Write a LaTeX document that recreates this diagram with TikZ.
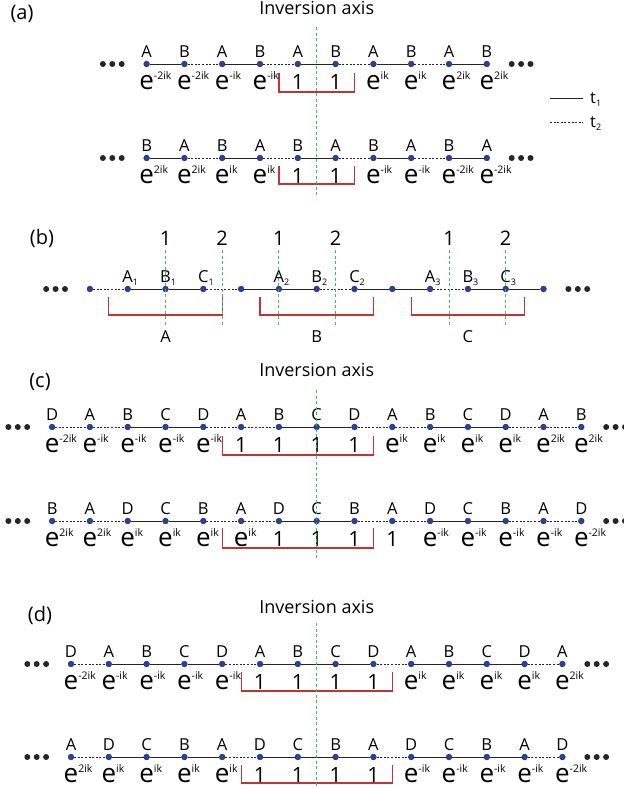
\documentclass[tikz,border=0pt]{standalone}
\usepackage{fontspec}
\setmainfont{Open Sans}
\usetikzlibrary{calc,positioning}

\definecolor{siteblue}{RGB}{42,66,158}
\definecolor{cellred}{RGB}{192,52,56}
\definecolor{axisgreen}{RGB}{62,188,92}

\newcommand\eph[1]{\fontsize{26}{26}\selectfont e\rlap{\raisebox{10pt}{\fontsize{10.5}{10.5}\selectfont#1}}}
\newcommand\one{\fontsize{21}{21}\selectfont 1}
\newcommand\sbs[1]{\rlap{\raisebox{-3pt}{\fontsize{9}{9}\selectfont#1}}}

\tikzset{
  site/.style={circle,fill=siteblue,draw=siteblue!60!black,line width=.4pt,inner sep=0pt,minimum size=5.8pt},
  more/.style={circle,fill=black!85,inner sep=0pt,minimum size=6pt},
  hopa/.style={draw=black!85,line width=1pt},
  hopb/.style={draw=black!85,line width=1pt,dash pattern=on 2pt off 1.6pt},
  axis/.style={draw=axisgreen,line width=.9pt,dash pattern=on 3pt off 2.5pt},
  cell/.style={draw=cellred,line width=1.2pt},
  sub/.style={anchor=base,inner sep=0pt,font=\fontsize{16.5}{16.5}\selectfont},
  ph/.style={anchor=base,inner sep=0pt},
  num/.style={anchor=base,inner sep=0pt,font=\fontsize{20}{20}\selectfont},
  ttl/.style={anchor=base,inner sep=0pt,font=\fontsize{18}{18}\selectfont},
  panel/.style={inner sep=0pt,font=\fontsize{20}{20}\selectfont},
}

% name, first x, y, letters, phases, bonds
\newcommand\chainrow[6]{%
  \foreach \lab [count=\i] in {#4}{
    \node[site] (#1\i) at ({#2+37.8*(\i-1)},#3) {};
    \node[sub] (#1\i t) at ({#2+37.8*(\i-1)},{#3-7}) {\lab};
  }
  \foreach \phz [count=\i] in {#5}{
    \node[ph] (#1\i p) at ({#2+37.8*(\i-1)},{#3+25}) {\phz};
  }
  \foreach \bnd [count=\i] in {#6}{
    \pgfmathtruncatemacro\j{\i+1}
    \draw[\bnd] (#1\i) -- (#1\j);
  }
}
% name, last index
\newcommand\sidedots[2]{%
  \node[more,left=18.6pt of #11] (#1l1) {};
  \node[more,left=3pt of #1l1] (#1l2) {};
  \node[more,left=3pt of #1l2] (#1l3) {};
  \node[more,right=18.6pt of #1#2] (#1r1) {};
  \node[more,right=3pt of #1r1] (#1r2) {};
  \node[more,right=3pt of #1r2] (#1r3) {};
}

\begin{document}
\begin{tikzpicture}[x=1pt,y=-1pt]
\useasboundingbox (0,0) rectangle (624,788);

% (a)
\node[panel] (pa) at (22,14) {(a)};
\node[ttl] (ta) at (316.7,14) {Inversion axis};
\chainrow{ra}{146.6}{64}{A,B,A,B,A,B,A,B,A,B}
  {\eph{-2ik},\eph{-2ik},\eph{-ik},\eph{-ik},\one,\one,\eph{ik},\eph{ik},\eph{2ik},\eph{2ik}}
  {hopa,hopb,hopa,hopb,hopa,hopb,hopa,hopb,hopa}
\chainrow{rb}{146.6}{158}{B,A,B,A,B,A,B,A,B,A}
  {\eph{2ik},\eph{2ik},\eph{ik},\eph{ik},\one,\one,\eph{-ik},\eph{-ik},\eph{-2ik},\eph{-2ik}}
  {hopa,hopb,hopa,hopb,hopa,hopb,hopa,hopb,hopa}
\sidedots{ra}{10}
\sidedots{rb}{10}
\draw[cell] ($(ra4)!.5!(ra5)+(0,9)$) |- ($(ra6)!.5!(ra7)+(0,28)$) -- ++(0,-19);
\draw[cell] ($(rb4)!.5!(rb5)+(0,8)$) |- ($(rb6)!.5!(rb7)+(0,26)$) -- ++(0,-18);
\draw[axis] (316.7,27) -- (316.7,197);

\coordinate (k1a) at (550,98);
\coordinate (k1b) at (583,98);
\coordinate (k2a) at (550,122);
\coordinate (k2b) at (583,122);
\draw[hopa] (k1a) -- (k1b);
\draw[hopb] (k2a) -- (k2b);
\node[sub,anchor=base west] (k1) at (590,103) {t\sbs{1}};
\node[sub,anchor=base west] (k2) at (590,127) {t\sbs{2}};

% (b)
\node[panel] (pbl) at (42,238) {(b)};
\chainrow{pb}{89.9}{289}{{},A\sbs{1},B\sbs{1},C\sbs{1},{},A\sbs{2},B\sbs{2},C\sbs{2},{},A\sbs{3},B\sbs{3},C\sbs{3},{}}
  {}
  {hopb,hopa,hopa,hopb,hopa,hopa,hopb,hopa,hopa,hopb,hopa,hopa}
\sidedots{pb}{13}
\foreach \a/\l [count=\i] in {1/A,5/B,9/C}{
  \pgfmathtruncatemacro\b{\a+1}
  \pgfmathtruncatemacro\c{\a+3}
  \pgfmathtruncatemacro\d{\a+4}
  \pgfmathtruncatemacro\m{\a+2}
  \draw[cell] ($(pb\a)!.5!(pb\b)+(0,8)$) |- ($(pb\c)!.5!(pb\d)+(0,26)$) -- ++(0,-18);
  \node[sub] (u\i) at ($(pb\m)+(0,53)$) {\l};
}
\foreach \n/\x [count=\i] in {1/165.5,2/222.2,1/278.9,2/335.6,1/449,2/505.7}{
  \node[num] (g\i) at (\x,245) {\n};
  \draw[axis] (\x,250) -- (\x,326);
}

% (c)
\node[panel] (pc) at (40,382) {(c)};
\node[ttl] (tc) at (316.7,376) {Inversion axis};
\chainrow{ca}{52.1}{427}{D,A,B,C,D,A,B,C,D,A,B,C,D,A,B}
  {\eph{-2ik},\eph{-ik},\eph{-ik},\eph{-ik},\eph{-ik},\one,\one,\one,\one,\eph{ik},\eph{ik},\eph{ik},\eph{ik},\eph{2ik},\eph{2ik}}
  {hopb,hopb,hopa,hopa,hopb,hopb,hopa,hopa,hopb,hopb,hopa,hopa,hopb,hopb}
\chainrow{cb}{52.1}{521}{B,A,D,C,B,A,D,C,B,A,D,C,B,A,D}
  {\eph{2ik},\eph{2ik},\eph{ik},\eph{ik},\eph{ik},\eph{ik},\one,\one,\one,\one,\eph{-ik},\eph{-ik},\eph{-ik},\eph{-ik},\eph{-2ik}}
  {hopb,hopb,hopa,hopa,hopb,hopb,hopa,hopa,hopb,hopb,hopa,hopa,hopb,hopb}
\sidedots{ca}{15}
\sidedots{cb}{15}
\draw[cell] ($(ca5)!.5!(ca6)+(0,9)$) |- ($(ca9)!.5!(ca10)+(0,28)$) -- ++(0,-19);
\draw[cell] ($(cb5)!.5!(cb6)+(0,7)$) |- ($(cb9)!.5!(cb10)+(0,27)$) -- ++(0,-20);
\draw[axis] (316.7,390) -- (316.7,560);

% (d)
\node[panel] (pd) at (40,615) {(d)};
\node[ttl] (td) at (316.7,613) {Inversion axis};
\chainrow{da}{71}{664}{D,A,B,C,D,A,B,C,D,A,B,C,D,A}
  {\eph{-2ik},\eph{-ik},\eph{-ik},\eph{-ik},\eph{-ik},\one,\one,\one,\one,\eph{ik},\eph{ik},\eph{ik},\eph{ik},\eph{2ik}}
  {hopb,hopa,hopa,hopa,hopb,hopa,hopa,hopa,hopb,hopa,hopa,hopa,hopb}
\chainrow{db}{71}{757}{A,D,C,B,A,D,C,B,A,D,C,B,A,D}
  {\eph{2ik},\eph{ik},\eph{ik},\eph{ik},\eph{ik},\one,\one,\one,\one,\eph{-ik},\eph{-ik},\eph{-ik},\eph{-ik},\eph{-2ik}}
  {hopb,hopa,hopa,hopa,hopb,hopa,hopa,hopa,hopb,hopa,hopa,hopa,hopb}
\sidedots{da}{14}
\sidedots{db}{14}
\draw[cell] ($(da5)!.5!(da6)+(0,8)$) |- ($(da9)!.5!(da10)+(0,27)$) -- ++(0,-19);
\draw[cell] ($(db5)!.5!(db6)+(0,8)$) |- ($(db9)!.5!(db10)+(0,26)$) -- ++(0,-18);
\draw[axis] (316.7,623) -- (316.7,788);
\end{tikzpicture}
\end{document}
